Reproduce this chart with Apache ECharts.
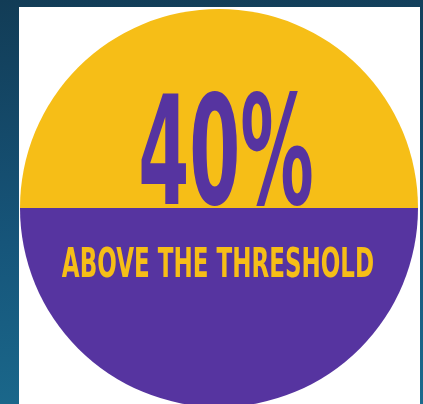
<!DOCTYPE html>
<html><head><meta charset="utf-8">
<script src="https://cdn.jsdelivr.net/npm/echarts@6/dist/echarts.min.js"></script>
<style>
html,body{margin:0;padding:0;width:423px;height:404px;overflow:hidden;background:linear-gradient(175deg,#123c56 0%,#16557a 55%,#1b6b8e 100%);}
#box{position:absolute;left:19px;top:7px;width:401px;height:397px;background:#fff;overflow:hidden;}
#chart{position:absolute;left:0;top:0;width:401px;height:397px;}
</style></head><body>
<div id="box"><div id="chart"></div></div>
<script>
// Data
const headline = ['40%'];
const caption = ['ABOVE THE THRESHOLD'];
const fillLevel = [0.5]; // share of the circle's height filled (purple, from the bottom)

const YELLOW = '#f6be17';
const PURPLE = '#5634a0';
const FONT = '"Liberation Sans Narrow", "DejaVu Sans Condensed", "Liberation Sans", sans-serif';

const chart = echarts.init(document.getElementById('chart'), null, {renderer: 'canvas'});
chart.setOption({
  animation: false,
  series: [{
    type: 'custom',
    coordinateSystem: 'none',
    data: fillLevel.map((v, i) => [v, i]),
    renderItem: function (params, api) {
      const w = api.getWidth();
      const level = api.value(0);
      const idx = api.value(1);
      const r = 199;
      const cx = w / 2 - 0.5;
      const cy = 201;
      const splitY = cy + r - 2 * r * level;
      return {
        type: 'group',
        children: [
          {
            type: 'group',
            clipPath: {type: 'circle', shape: {cx: cx, cy: cy, r: r}},
            children: [
              {type: 'rect', shape: {x: cx - r, y: cy - r, width: 2 * r, height: splitY - (cy - r)}, style: {fill: YELLOW}},
              {type: 'rect', shape: {x: cx - r, y: splitY, width: 2 * r, height: cy + r - splitY}, style: {fill: PURPLE}}
            ]
          },
          {
            type: 'text',
            x: cx + 7, y: splitY - 43,
            scaleX: 0.51, scaleY: 0.95,
            style: {
              text: headline[idx], fill: PURPLE,
              font: 'bold 160px ' + FONT,
              textAlign: 'center', textVerticalAlign: 'middle',
              align: 'center', verticalAlign: 'middle'
            }
          },
          {
            type: 'text',
            x: cx - 1, y: splitY + 59,
            scaleX: 0.64, scaleY: 1,
            style: {
              text: caption[idx], fill: YELLOW,
              font: 'bold 40px ' + FONT,
              textAlign: 'center', textVerticalAlign: 'middle',
              align: 'center', verticalAlign: 'middle'
            }
          }
        ]
      };
    }
  }]
});
</script>
</body></html>
